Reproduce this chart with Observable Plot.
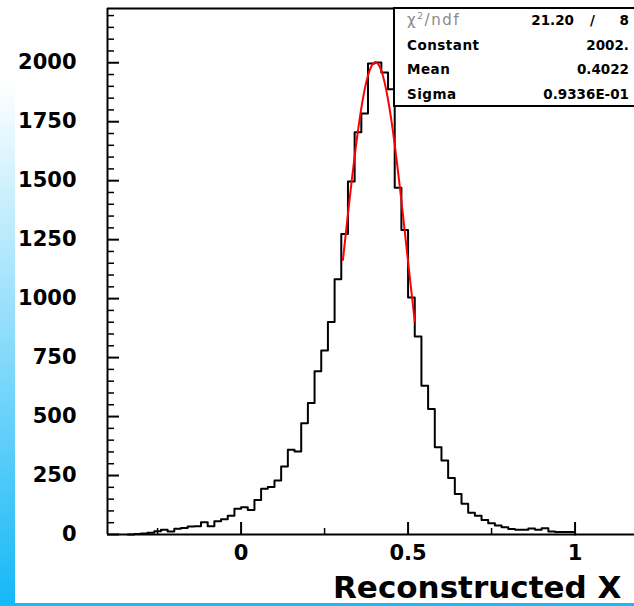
<!DOCTYPE html>
<html><head><meta charset="utf-8">
<script src="https://cdn.jsdelivr.net/npm/d3@7"></script>
<script src="https://cdn.jsdelivr.net/npm/@observablehq/plot@0.6"></script>
<style>
html,body{margin:0;padding:0;background:#fff;overflow:hidden;width:634px;height:606px;}
#wrap{position:relative;width:634px;height:606px;overflow:hidden;background:#fff;}
#chart{position:absolute;left:0;top:0;}
#chart svg text{font-family:"DejaVu Sans",sans-serif;font-weight:bold;}
.strip{position:absolute;left:0;top:0;width:15px;height:606px;background:linear-gradient(to bottom,#fff 0px,#fff 80px,#15b8f7 606px);}
.band{position:absolute;left:0;top:603px;width:634px;height:3px;background:#17b9f6;}
.stats{position:absolute;left:393px;top:7px;width:320px;height:100px;box-sizing:border-box;border:2px solid #000;background:#fff;font-family:"DejaVu Sans",sans-serif;font-weight:bold;font-size:13.5px;color:#000;}
.row{position:absolute;left:12px;width:222px;height:16px;line-height:16px;white-space:nowrap;}
.row .lab{position:absolute;left:0;top:0;}
.row .val{position:absolute;right:0;top:0;}
.chi{font-weight:normal;color:#8a8a8a;font-size:15px;letter-spacing:1.6px;}
.chi sup{font-size:9px;vertical-align:6px;line-height:0;}
.title{position:absolute;left:333px;top:569px;font-family:"DejaVu Sans",sans-serif;font-weight:bold;font-size:31px;line-height:36px;height:36px;white-space:nowrap;color:#000;}
</style></head>
<body>
<div id="wrap">
  <div id="chart"></div>
  <div class="stats" id="stats"></div>
  <div class="title" id="title"></div>
  <div class="strip"></div>
  <div class="band"></div>
</div>
<script>
// ---- data ----
const binStart = -0.34;
const binWidth = 0.02;
const counts = [0, 2, 4, 7, 14, 20, 13, 24, 28, 34, 35, 52, 35, 56, 65, 79, 109, 115, 104, 146, 194, 201, 229, 288, 359, 352, 472, 558, 692, 780, 901, 1082, 1274, 1497, 1705, 1785, 1997, 2001, 1959, 1888, 1470, 1291, 1005, 839, 631, 532, 370, 314, 240, 172, 130, 92, 80, 62, 48, 38, 31, 23, 20, 20, 25, 20, 27, 13, 11, 11, 11];
const fitX = [0.305, 0.32, 0.34, 0.36, 0.38, 0.40, 0.42, 0.44, 0.46, 0.48, 0.50, 0.52];
const fitY = [1164, 1359, 1603, 1808, 1946, 2001, 1966, 1844, 1653, 1415, 1157, 903];
const xMajorTicks = [0, 0.5, 1];
const xMinorTicks = [-0.25, 0.25, 0.75];
const yMajorTicks = [0, 250, 500, 750, 1000, 1250, 1500, 1750, 2000];
const yMinorTicks = [50, 100, 150, 200, 300, 350, 400, 450, 550, 600, 650, 700, 800, 850, 900, 950, 1050, 1100, 1150, 1200, 1300, 1350, 1400, 1450, 1550, 1600, 1650, 1700, 1800, 1850, 1900, 1950, 2050, 2100, 2150, 2200];
const xDomain = [-0.4, 1.178];
const yDomain = [0, 2230];
const statLabels = ["Constant", "Mean", "Sigma"];
const statValues = ["2002.", "0.4022", "0.9336E-01"];
const chi2 = "21.20", ndf = "8";
const xTitle = "Reconstructed X";

// ---- build ----
const hist = counts.map((c, i) => ({x: binStart + i * binWidth, y: c}));
hist.push({x: binStart + counts.length * binWidth, y: 0});
const fit = fitX.map((x, i) => ({x, y: fitY[i]}));

const plot = Plot.plot({
  width: 634, height: 606,
  marginLeft: 107, marginRight: 0, marginTop: 8, marginBottom: 72,
  x: {domain: xDomain, label: null},
  y: {domain: yDomain, label: null},
  style: {background: "transparent", overflow: "visible"},
  marks: [
    Plot.axisY({ticks: yMinorTicks, tickSize: 7, dx: 7, tickFormat: () => "", strokeWidth: 1.5, label: null}),
    Plot.axisY({ticks: yMajorTicks, tickSize: 12, dx: 12, tickFormat: () => "", strokeWidth: 2, label: null}),
    Plot.axisY({ticks: yMajorTicks, tickSize: 0, tickPadding: 31, fontSize: 21, tickFormat: d => String(d), label: null}),
    Plot.axisX({ticks: xMinorTicks, tickSize: 6, dy: -6, tickFormat: () => "", strokeWidth: 1.5, label: null}),
    Plot.axisX({ticks: xMajorTicks, tickSize: 12, dy: -12, tickFormat: () => "", strokeWidth: 2, label: null}),
    Plot.axisX({ticks: xMajorTicks, tickSize: 0, tickPadding: 11, fontSize: 21, tickFormat: d => String(d), label: null}),
    Plot.line(hist, {x: "x", y: "y", curve: "step-after", stroke: "#000", strokeWidth: 2}),
    Plot.line(fit, {x: "x", y: "y", curve: "natural", stroke: "#ff0000", strokeWidth: 2}),
    Plot.ruleX([xDomain[0]], {stroke: "#000", strokeWidth: 2}),
    Plot.ruleY([yDomain[0]], {stroke: "#000", strokeWidth: 2}),
    Plot.ruleY([yDomain[1]], {stroke: "#000", strokeWidth: 2})
  ]
});
document.getElementById("chart").appendChild(plot);

// stats box
const stats = document.getElementById("stats");
const rowTops = [3, 27.5, 52, 76.5];
const r0 = document.createElement("div");
r0.className = "row"; r0.style.top = rowTops[0] + "px";
r0.innerHTML = `<span class="lab chi">&chi;<sup>2</sup>/ndf</span>` +
  `<span class="val" style="right:55px">${chi2}</span>` +
  `<span class="val" style="right:34px">/</span>` +
  `<span class="val">${ndf}</span>`;
stats.appendChild(r0);
statLabels.forEach((lab, i) => {
  const r = document.createElement("div");
  r.className = "row"; r.style.top = rowTops[i + 1] + "px";
  r.innerHTML = `<span class="lab" style="letter-spacing:0.5px">${lab}</span><span class="val">${statValues[i]}</span>`;
  stats.appendChild(r);
});
document.getElementById("title").textContent = xTitle;
</script>
</body></html>
